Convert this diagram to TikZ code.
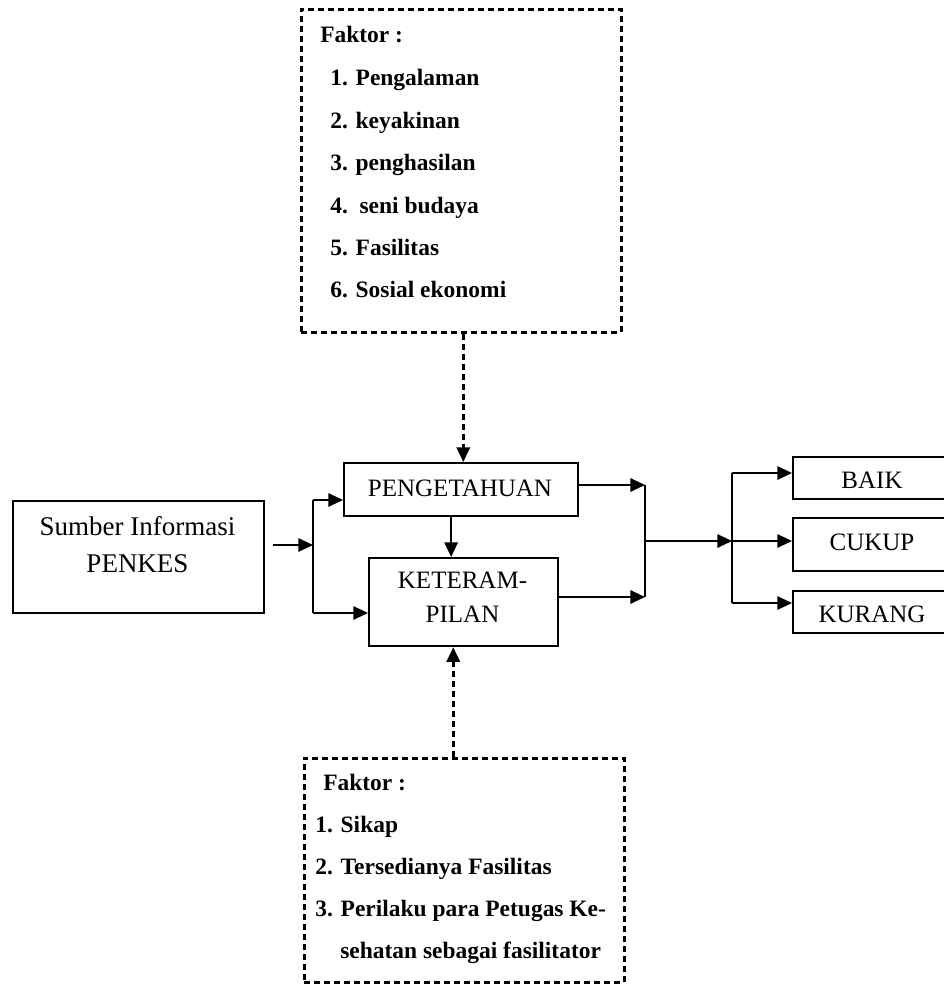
\documentclass[tikz,border=0pt]{standalone}
\usepackage{fontspec}
\setmainfont{Liberation Serif}
\usetikzlibrary{arrows.meta}
\begin{document}
\begin{tikzpicture}[x=0.75pt,y=-0.75pt,
  sbox/.style={draw,line width=1.7pt,inner sep=0pt,anchor=north west},
  dbox/.style={draw,line width=1.9pt,dash pattern=on 4.5pt off 3pt,inner sep=0pt,anchor=north west},
  lbl/.style={inner sep=0pt,anchor=base,font=\fontsize{18.75}{22}\selectfont},
  lst/.style={inner sep=0pt,anchor=base west,font=\fontsize{17.6}{21}\selectfont\bfseries},
  conn/.style={line width=1.5pt},
  arr/.style={line width=1.5pt,-{Triangle[length=11pt,width=10pt]}},
  darr/.style={line width=1.9pt,dash pattern=on 4.5pt off 3pt,-{Triangle[length=11pt,width=10pt]}}]
\useasboundingbox (0,0) rectangle (944,985);

% top dashed factor box
\node[dbox,minimum width=240pt,minimum height=242.25pt] (topf) at (300,8) {};
\node[lst] (t0) at (320,42) {Faktor :};
\node[lst] (t1) at (330,85) {1. Pengalaman};
\node[lst] (t2) at (330,128) {2. keyakinan};
\node[lst] (t3) at (330,170) {3. penghasilan};
\node[lst] (t4) at (330,213) {4.\ \ seni budaya};
\node[lst] (t5) at (330,255) {5. Fasilitas};
\node[lst] (t6) at (330,297) {6. Sosial ekonomi};

% bottom dashed factor box
\node[dbox,minimum width=240pt,minimum height=168pt] (botf) at (303,757) {};
\node[lst] (b0) at (323,790) {Faktor :};
\node[lst] (b1) at (315,832) {1. Sikap};
\node[lst] (b2) at (315,874) {2. Tersedianya Fasilitas};
\node[lst] (b3) at (315,916) {3. Perilaku para Petugas Ke-};
\node[lst] (b4) at (340,958) {sehatan sebagai fasilitator};

% solid boxes
\node[sbox,minimum width=188.25pt,minimum height=84pt] (sumber) at (12,500) {};
\node[lbl,font=\fontsize{20.25}{24}\selectfont] (sumber1) at (137.5,535) {Sumber Informasi};
\node[lbl,font=\fontsize{20.25}{24}\selectfont] (sumber2) at (137.5,572) {PENKES};

\node[sbox,minimum width=175.5pt,minimum height=39.75pt] (peng) at (343,462) {};
\node[lbl] (pengt) at (460,496) {PENGETAHUAN};

\node[sbox,minimum width=141.75pt,minimum height=66pt] (keter) at (368,557) {};
\node[lbl] (keter1) at (462.5,588) {KETERAM-};
\node[lbl] (keter2) at (462.5,622) {PILAN};

\node[sbox,minimum width=120pt,minimum height=31.5pt] (baik) at (792,456) {};
\node[lbl] (baikt) at (872,488) {BAIK};
\node[sbox,minimum width=120pt,minimum height=39.75pt] (cukup) at (792,517) {};
\node[lbl] (cukupt) at (872,550) {CUKUP};
\node[sbox,minimum width=120pt,minimum height=31.5pt] (kurang) at (792,590) {};
\node[lbl] (kurangt) at (872,622) {KURANG};

% junction coordinates
\coordinate (s0) at (273,545);
\coordinate (j1) at (313,545);
\coordinate (j1a) at (313,500);
\coordinate (j1b) at (313,613);
\coordinate (j2a) at (645,485);
\coordinate (j2b) at (645,597);
\coordinate (j2) at (645,541);
\coordinate (j3) at (732,541);
\coordinate (j3a) at (732,473);
\coordinate (j3b) at (732,603);

% connectors
\draw[arr] (s0) -- (j1);
\draw[conn] (j1a) -- (j1b);
\draw[arr] (j1a) -- (j1a -| peng.west);
\draw[arr] (j1b) -- (j1b -| keter.west);
\draw[arr] ([xshift=-7.5pt]peng.south) -- ([xshift=-7.5pt]peng.south |- keter.north);
\draw[darr] ([xshift=1.5pt]topf.south) -- ([xshift=1.5pt]topf.south |- peng.north);
\draw[darr] ([xshift=-8.25pt]botf.north) -- ([xshift=-8.25pt]botf.north |- keter.south);

\draw[arr] (peng.east |- j2a) -- (j2a);
\draw[arr] (keter.east |- j2b) -- (j2b);
\draw[conn] (j2a) -- (j2b);
\draw[arr] (j2) -- (j3);
\draw[conn] (j3a) -- (j3b);
\draw[arr] (j3a) -- (j3a -| baik.west);
\draw[arr] (j3) -- (j3 -| cukup.west);
\draw[arr] (j3b) -- (j3b -| kurang.west);
\end{tikzpicture}
\end{document}
